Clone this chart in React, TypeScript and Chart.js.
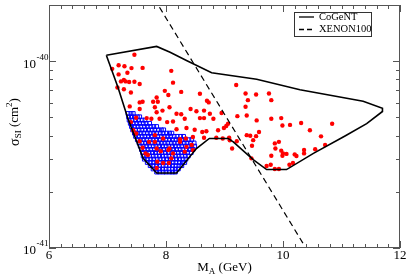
import React, { useEffect, useRef } from "react";
import { Chart, registerables } from "chart.js";
Chart.register(...registerables);

// cross sections given in units of 1e-41 cm^2
const X_MIN = 6;
const X_MAX = 12;
const Y_MIN = 1;
const Y_MAX = 20;
const xTickValues = [6, 8, 10, 12];
const xTickLabels = ["6", "8", "10", "12"];
const yTickValues = [1, 10];
const yTickExponents = ["-41", "-40"];

const cogentX = [6.98, 7.84, 8.07, 8.35, 8.78, 9.55, 10.29, 11.37, 11.7, 11.7, 11.43, 11.06, 10.52, 10.06, 9.72, 9.49, 9.15, 9.06, 8.74, 8.52, 8.18, 7.84, 7.61, 7.35, 7.18, 6.98];
const cogentY = [10.76, 12.0, 11.16, 10.1, 8.68, 8.0, 7.03, 6.1, 5.6, 5.38, 4.63, 3.98, 3.21, 2.63, 2.63, 2.97, 3.7, 3.86, 3.86, 3.41, 2.52, 2.52, 3.02, 4.92, 7.23, 10.76];

const xenonX = [7.8, 10.346];
const xenonY = [21.6, 1.055];

const redPoints: number[][] = [
  [7.46, 10.83], [7.08, 9.1], [7.19, 9.52], [7.29, 9.4], [7.41, 9.19], [7.6, 9.21], [7.34, 8.67], [8.09, 8.88], [7.19, 8.5], [7.23, 7.8],
  [7.28, 7.93], [7.31, 7.8], [7.17, 7.23], [7.28, 7.08], [7.46, 7.77], [7.55, 7.55], [7.37, 7.74], [8.12, 7.68], [7.98, 6.94], [8.26, 6.85],
  [7.4, 6.8], [7.84, 6.4], [8.04, 6.6], [8.58, 6.7], [8.7, 6.14], [8.73, 6.02], [9.2, 7.46], [9.36, 6.72], [9.54, 6.64], [9.76, 6.72],
  [9.4, 6.19], [9.8, 6.19], [7.6, 6.07], [7.55, 6.02], [7.78, 6.07], [7.86, 6.07], [7.38, 5.73], [7.55, 5.55], [7.81, 5.67], [8.06, 5.67],
  [7.84, 5.33], [7.94, 5.44], [8.42, 5.55], [8.52, 5.4], [8.65, 5.44], [8.75, 5.23], [8.95, 5.28], [9.36, 5.7], [9.38, 5.12], [9.22, 5.08],
  [8.18, 5.23], [8.26, 5.2], [8.32, 4.92], [7.49, 4.98], [7.67, 4.96], [7.75, 4.92], [7.89, 4.92], [8.02, 4.72], [8.12, 4.76], [8.18, 4.32],
  [8.58, 4.96], [8.65, 4.96], [8.81, 4.92], [9.06, 4.63], [9.03, 4.5], [8.99, 4.39], [9.55, 4.82], [9.8, 4.92], [9.97, 4.96], [9.99, 4.53],
  [10.12, 4.56], [10.31, 4.67], [10.84, 4.63], [8.35, 4.39], [8.49, 4.3], [8.62, 4.18], [8.69, 4.22], [8.89, 4.27], [9.38, 4.02], [9.44, 3.99],
  [9.54, 3.97], [9.59, 4.18], [9.49, 3.78], [10.46, 4.27], [8.24, 3.82], [8.34, 3.86], [8.46, 3.93], [8.65, 3.89], [8.86, 3.89], [8.97, 3.86],
  [9.08, 3.89], [9.09, 3.77], [9.21, 3.73], [9.13, 3.41], [9.47, 3.53], [9.46, 3.02], [9.86, 3.63], [9.93, 3.7], [9.87, 3.41], [9.97, 3.32],
  [10.0, 3.21], [9.99, 3.12], [10.06, 3.19], [10.36, 3.35], [10.55, 3.38], [10.65, 3.96], [10.72, 3.56], [10.2, 3.17], [10.23, 3.11], [9.8, 3.12],
  [9.79, 2.79], [9.72, 2.75], [9.86, 2.65], [9.93, 2.65], [10.11, 2.79], [10.17, 2.85], [10.36, 3.21],
  [7.4, 4.72], [7.44, 4.27], [7.49, 4.1], [7.6, 3.44], [7.65, 3.21], [7.55, 3.73], [7.71, 3.7], [7.81, 4.02], [7.84, 3.41], [7.91, 3.3],
  [8.04, 3.35], [8.06, 3.41], [7.85, 2.9], [7.95, 2.85], [8.05, 2.85], [8.09, 3.02], [8.12, 3.21], [7.84, 2.68], [7.69, 3.15], [7.81, 3.7],
  [7.95, 3.86], [8.24, 3.7], [8.32, 3.28], [8.35, 3.48], [8.44, 3.56], [8.46, 3.35],
];

const blueRowY = [5.25, 5.04, 4.84, 4.65, 4.47, 4.29, 4.12, 3.96, 3.8, 3.65, 3.51, 3.37, 3.24, 3.11, 2.99, 2.87, 2.76, 2.65, 2.55];
const blueRowX: number[][] = [
  [7.35, 7.4, 7.44],
  [7.36, 7.41, 7.46, 7.51, 7.55],
  [7.37, 7.42, 7.48, 7.53, 7.59, 7.64],
  [7.39, 7.44, 7.5, 7.55, 7.61, 7.66, 7.72],
  [7.41, 7.46, 7.52, 7.57, 7.63, 7.68, 7.74, 7.79, 7.84],
  [7.43, 7.48, 7.54, 7.59, 7.65, 7.7, 7.76, 7.81, 7.87, 7.92, 7.96],
  [7.46, 7.51, 7.57, 7.62, 7.68, 7.73, 7.79, 7.84, 7.9, 7.95, 8.01, 8.06, 8.1],
  [7.48, 7.53, 7.59, 7.64, 7.7, 7.75, 7.81, 7.86, 7.92, 7.97, 8.03, 8.08, 8.14, 8.19, 8.25, 8.3],
  [7.51, 7.56, 7.62, 7.67, 7.73, 7.78, 7.84, 7.89, 7.95, 8.0, 8.06, 8.11, 8.17, 8.22, 8.28, 8.33, 8.39, 8.44],
  [7.54, 7.59, 7.65, 7.7, 7.76, 7.81, 7.87, 7.92, 7.98, 8.03, 8.09, 8.14, 8.2, 8.25, 8.31, 8.36, 8.42, 8.48],
  [7.56, 7.61, 7.67, 7.72, 7.78, 7.83, 7.89, 7.94, 8.0, 8.05, 8.11, 8.16, 8.22, 8.27, 8.33, 8.38, 8.44, 8.49],
  [7.58, 7.63, 7.69, 7.74, 7.8, 7.85, 7.91, 7.96, 8.02, 8.07, 8.13, 8.18, 8.24, 8.29, 8.35, 8.4, 8.46],
  [7.6, 7.66, 7.71, 7.77, 7.82, 7.88, 7.93, 7.99, 8.04, 8.1, 8.15, 8.21, 8.26, 8.32, 8.37, 8.43],
  [7.61, 7.67, 7.72, 7.78, 7.83, 7.89, 7.94, 8.0, 8.05, 8.11, 8.16, 8.22, 8.27, 8.33, 8.38],
  [7.63, 7.68, 7.74, 7.79, 7.85, 7.9, 7.96, 8.01, 8.07, 8.12, 8.18, 8.23, 8.29, 8.34],
  [7.68, 7.73, 7.79, 7.84, 7.9, 7.95, 8.01, 8.06, 8.12, 8.17, 8.23, 8.28, 8.32],
  [7.73, 7.78, 7.84, 7.89, 7.95, 8.0, 8.06, 8.11, 8.17, 8.22, 8.27],
  [7.78, 7.83, 7.89, 7.94, 8.0, 8.05, 8.11, 8.16, 8.21],
  [7.84, 7.89, 7.95, 8.0, 8.06, 8.11, 8.16],
];

const FONT = "'Liberation Serif', 'Times New Roman', serif";

const axesPlugin = {
  id: "axesFrame",
  afterDraw(chart: any) {
    const { ctx, chartArea: a, scales } = chart;
    const xs = scales.x;
    const ys = scales.y;
    ctx.save();
    // legend
    ctx.strokeStyle = "#333";
    ctx.lineWidth = 1;
    ctx.strokeRect(294.5, 12.5, 77, 24);
    ctx.strokeStyle = "#000";
    ctx.lineWidth = 1.3;
    ctx.beginPath();
    ctx.moveTo(299, 17);
    ctx.lineTo(314, 17);
    ctx.stroke();
    ctx.setLineDash([5, 3]);
    ctx.beginPath();
    ctx.moveTo(299, 29.5);
    ctx.lineTo(314, 29.5);
    ctx.stroke();
    ctx.setLineDash([]);
    ctx.fillStyle = "#000";
    ctx.font = `10.5px ${FONT}`;
    ctx.textAlign = "left";
    ctx.textBaseline = "middle";
    ctx.fillText("CoGeNT", 319, 17);
    ctx.fillText("XENON100", 319, 29.5);

    // frame
    ctx.strokeStyle = "#555";
    ctx.lineWidth = 1;
    ctx.strokeRect(a.left + 0.5, a.top + 0.5, a.right - a.left - 1, a.bottom - a.top - 1);
    ctx.beginPath();
    for (let i = 0; i <= 30; i++) {
      const v = X_MIN + i * 0.2;
      const px = Math.round(xs.getPixelForValue(v)) + 0.5;
      const major = i % 10 === 0;
      const len = major ? 7 : 4;
      ctx.moveTo(px, a.bottom);
      ctx.lineTo(px, a.bottom - len);
      ctx.moveTo(px, a.top);
      ctx.lineTo(px, a.top + len);
    }
    const yVals: number[] = [];
    for (let m = 1; m <= 9; m++) yVals.push(m);
    yVals.push(10, 20);
    for (const v of yVals) {
      const py = Math.round(ys.getPixelForValue(v)) + 0.5;
      const major = v === 1 || v === 10;
      const len = major ? 7 : 4;
      ctx.moveTo(a.left, py);
      ctx.lineTo(a.left + len, py);
      ctx.moveTo(a.right, py);
      ctx.lineTo(a.right - len, py);
    }
    ctx.stroke();

    // x tick labels
    ctx.fillStyle = "#000";
    ctx.font = `13px ${FONT}`;
    ctx.textAlign = "center";
    ctx.textBaseline = "middle";
    xTickValues.forEach((v, i) => {
      ctx.fillText(xTickLabels[i], xs.getPixelForValue(v), 256);
    });
    // y tick labels
    yTickValues.forEach((v, i) => {
      const py = ys.getPixelForValue(v);
      ctx.font = `13px ${FONT}`;
      ctx.textAlign = "right";
      ctx.fillText("10", 36, py + 3);
      ctx.font = `9px ${FONT}`;
      ctx.textAlign = "left";
      ctx.fillText(yTickExponents[i], 36.5, py - 4);
    });

    // x title
    ctx.textAlign = "left";
    ctx.font = `13px ${FONT}`;
    const mW = ctx.measureText("M").width;
    ctx.font = `9px ${FONT}`;
    const aW = ctx.measureText("A").width;
    ctx.font = `13px ${FONT}`;
    const restW = ctx.measureText(" (GeV)").width;
    const total = mW + aW + restW;
    const sx = (a.left + a.right) / 2 - total / 2;
    ctx.fillText("M", sx, 268);
    ctx.font = `9px ${FONT}`;
    ctx.fillText("A", sx + mW, 271.5);
    ctx.font = `13px ${FONT}`;
    ctx.fillText(" (GeV)", sx + mW + aW, 268);

    // y title
    ctx.save();
    ctx.translate(15, 122);
    ctx.rotate(-Math.PI / 2);
    const parts: [string, number, number][] = [
      ["σ", 14, 0],
      ["SI", 9, 3.5],
      [" (cm", 13, 0],
      ["2", 9, -5],
      [")", 13, 0],
    ];
    let tw = 0;
    for (const [t, s] of parts) {
      ctx.font = `${s}px ${FONT}`;
      tw += ctx.measureText(t).width;
    }
    let cx = -tw / 2;
    for (const [t, s, dy] of parts) {
      ctx.font = `${s}px ${FONT}`;
      ctx.fillText(t, cx, dy);
      cx += ctx.measureText(t).width;
    }
    ctx.restore();
    ctx.restore();
  },
};

export default function App() {
  const ref = useRef<HTMLCanvasElement | null>(null);
  useEffect(() => {
    if (!ref.current) return;
    const cogent = cogentX.map((x, i) => ({ x, y: cogentY[i] }));
    const xenon = xenonX.map((x, i) => ({ x, y: xenonY[i] }));
    const red = redPoints.map(([x, y]) => ({ x, y }));
    const blue: { x: number; y: number }[] = [];
    blueRowY.forEach((y, r) => blueRowX[r].forEach((x) => blue.push({ x, y })));
    const chart = new Chart(ref.current, {
      type: "scatter",
      data: {
        datasets: [
          { label: "CoGeNT", data: cogent, showLine: true, borderColor: "#000", borderWidth: 1.6, pointRadius: 0, fill: false, tension: 0 },
          { label: "XENON100", data: xenon, showLine: true, borderColor: "#000", borderWidth: 1.2, borderDash: [6, 4], pointRadius: 0, fill: false },
          { label: "red", data: red, pointRadius: 2.2, pointBackgroundColor: "#ff0000", pointBorderColor: "#ff0000", pointBorderWidth: 0 },
          { label: "blue", data: blue, pointStyle: "rect", pointRadius: 2.7, pointBackgroundColor: "rgba(0,0,0,0)", pointBorderColor: "#0000ff", pointBorderWidth: 1 },
        ],
      },
      options: {
        animation: false,
        responsive: false,
        maintainAspectRatio: false,
        layout: { padding: { left: 49, right: 7, top: 1, bottom: 30 } },
        plugins: { legend: { display: false }, tooltip: { enabled: false } },
        scales: {
          x: { type: "linear", min: X_MIN, max: X_MAX, display: false },
          y: { type: "logarithmic", min: Y_MIN, max: Y_MAX, display: false },
        },
      },
      plugins: [axesPlugin],
    });
    return () => chart.destroy();
  }, []);
  return (
    <div style={{ position: "absolute", left: 0, top: 0, width: 407, height: 278, background: "#fff" }}>
      <canvas ref={ref} width={407} height={278} style={{ width: 407, height: 278, display: "block" }} />
    </div>
  );
}
